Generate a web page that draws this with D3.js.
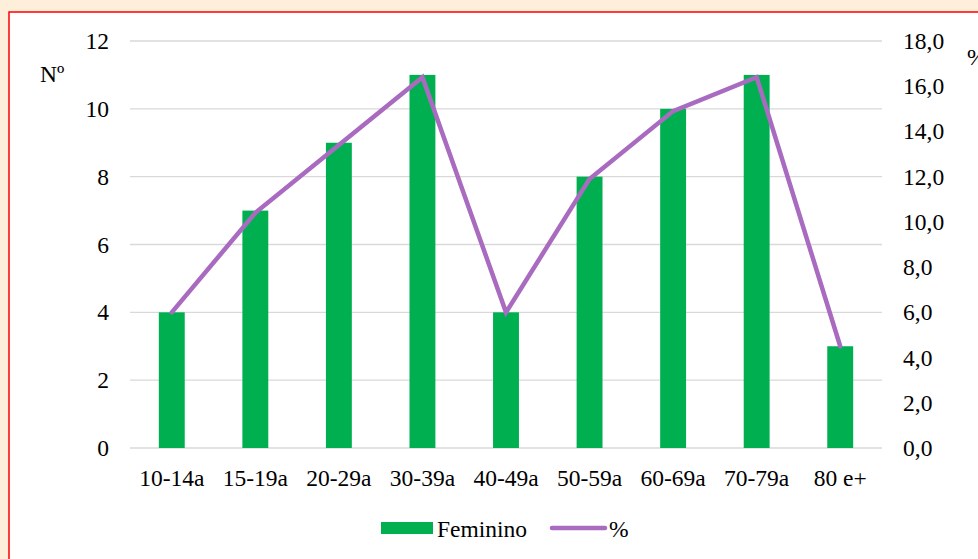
<!DOCTYPE html>
<html>
<head>
<meta charset="utf-8">
<script src="https://cdn.jsdelivr.net/npm/d3@7"></script>
<style>
  html, body { margin: 0; padding: 0; background: #fdefd9; }
  svg { display: block; }
</style>
</head>
<body>
<div id="chart"></div>
<script>
// data
const categories = ["10-14a", "15-19a", "20-29a", "30-39a", "40-49a", "50-59a", "60-69a", "70-79a", "80 e+"];
const feminino = [4, 7, 9, 11, 4, 8, 10, 11, 3];
const percent = [6.0, 10.4, 13.4, 16.4, 6.0, 11.9, 14.9, 16.4, 4.5];
const leftTicks = [0, 2, 4, 6, 8, 10, 12];
const rightTicks = [0, 2, 4, 6, 8, 10, 12, 14, 16, 18];

const W = 978, H = 559;
const plot = { left: 130, right: 882, top: 41, bottom: 448 };
const FONT = "'Liberation Serif', 'Times New Roman', serif";
const FS = 23.5;

const svg = d3.select("#chart").append("svg")
  .attr("width", W)
  .attr("height", H)
  .style("font-family", FONT);

// white panel with red border (runs off right/bottom)
svg.append("rect")
  .attr("x", 9).attr("y", 12)
  .attr("width", W + 20).attr("height", H + 20)
  .attr("fill", "#fff")
  .attr("stroke", "#ff0000")
  .attr("stroke-width", 1.5);

const x = d3.scaleBand()
  .domain(categories)
  .range([plot.left, plot.right])
  .paddingInner(0.69)
  .paddingOuter(0.345);

const yL = d3.scaleLinear().domain([0, 12]).range([plot.bottom, plot.top]);
const yR = d3.scaleLinear().domain([0, 18]).range([plot.bottom, plot.top]);

// gridlines
svg.append("g")
  .selectAll("line")
  .data(leftTicks)
  .enter()
  .append("line")
  .attr("x1", plot.left)
  .attr("x2", plot.right)
  .attr("y1", d => yL(d))
  .attr("y2", d => yL(d))
  .attr("stroke", "#d9d9d9")
  .attr("stroke-width", 1.3);

function styleAxis(g) {
  g.select(".domain").remove();
  g.attr("font-family", null).attr("font-size", null);
  g.selectAll("text")
    .style("font-family", FONT)
    .style("font-size", FS + "px")
    .attr("fill", "#000");
}

// left axis
svg.append("g")
  .attr("transform", `translate(${plot.left - 21},0)`)
  .call(d3.axisLeft(yL).tickValues(leftTicks).tickSize(0).tickPadding(0))
  .call(styleAxis);

// right axis
svg.append("g")
  .attr("transform", `translate(${plot.right + 21},0)`)
  .call(d3.axisRight(yR).tickValues(rightTicks).tickSize(0).tickPadding(0)
    .tickFormat(d => d3.format(".1f")(d).replace(".", ",")))
  .call(styleAxis);

// x axis labels
svg.append("g")
  .attr("transform", `translate(0,486)`)
  .call(d3.axisBottom(x).tickSize(0).tickPadding(0))
  .call(styleAxis)
  .selectAll("text")
  .attr("y", 0)
  .attr("dy", null);

// axis titles
svg.append("text")
  .attr("x", 40).attr("y", 82)
  .style("font-size", FS + "px")
  .text("Nº");
svg.append("text")
  .attr("x", 967).attr("y", 65)
  .style("font-size", FS + "px")
  .text("%");

// bars
svg.append("g")
  .selectAll("rect")
  .data(feminino)
  .enter()
  .append("rect")
  .attr("x", (d, i) => x(categories[i]))
  .attr("y", d => yL(d))
  .attr("width", x.bandwidth())
  .attr("height", d => yL(0) - yL(d))
  .attr("fill", "#00b050");

// percent line
const line = d3.line()
  .x((d, i) => x(categories[i]) + x.bandwidth() / 2)
  .y(d => yR(d));

svg.append("path")
  .datum(percent)
  .attr("d", line)
  .attr("fill", "none")
  .attr("stroke", "#a86bc0")
  .attr("stroke-width", 4.5)
  .attr("stroke-linecap", "round")
  .attr("stroke-linejoin", "miter");

// legend
const legend = svg.append("g");
legend.append("rect")
  .attr("x", 381).attr("y", 522)
  .attr("width", 52).attr("height", 12)
  .attr("fill", "#00b050");
legend.append("text")
  .attr("x", 437).attr("y", 537)
  .style("font-size", FS + "px")
  .text("Feminino");
legend.append("line")
  .attr("x1", 552).attr("x2", 605)
  .attr("y1", 528).attr("y2", 528)
  .attr("stroke", "#a86bc0")
  .attr("stroke-width", 4.5)
  .attr("stroke-linecap", "round");
legend.append("text")
  .attr("x", 609).attr("y", 537)
  .style("font-size", FS + "px")
  .text("%");
</script>
</body>
</html>
